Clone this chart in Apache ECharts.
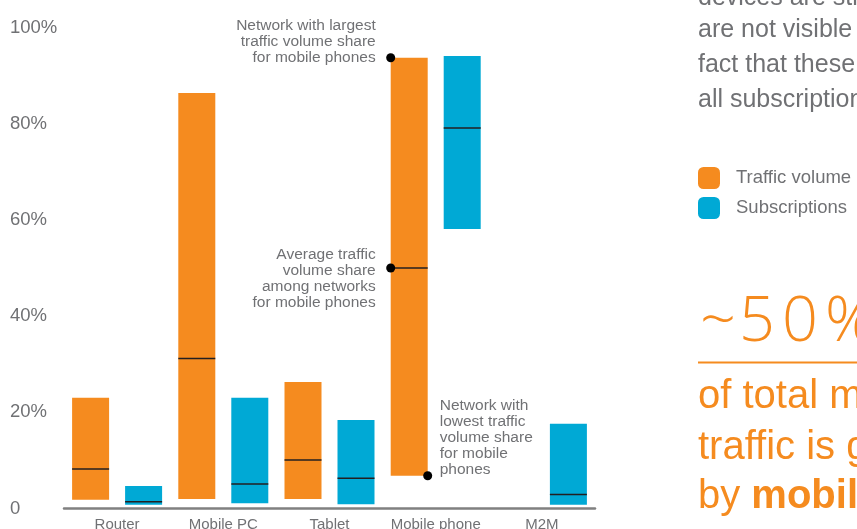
<!DOCTYPE html>
<html>
<head>
<meta charset="utf-8">
<style>
  html, body { margin: 0; padding: 0; background: #fff; }
  #chart { width: 857px; height: 529px; }
</style>
<script src="https://cdn.jsdelivr.net/npm/echarts@6/dist/echarts.min.js"></script>
</head>
<body>
<div id="chart"></div>
<script>
// Device categories and the share ranges (per cent) across networks
const categories = ['Router', 'Mobile PC', 'Tablet', 'Mobile phone', 'M2M'];

const trafficMin = [1.8, 2.0, 2.0, 6.8, null];
const trafficMax = [23.0, 86.4, 26.3, 93.7, null];
const trafficAvg = [8.2, 31.2, 10.1, 50.0, null];

const subsMin = [0.8, 1.1, 0.9, 58.1, 0.8];
const subsMax = [4.7, 23.0, 18.4, 94.1, 17.6];
const subsAvg = [1.4, 5.1, 6.3, 79.1, 2.9];

const yTicks = [0, 20, 40, 60, 80, 100];

const ORANGE = '#f58b1f';
const BLUE = '#00a9d5';
const GREY = '#707174';
const FONT = '"Liberation Sans", Arial, Helvetica, sans-serif';

const BAR_W = 37;
const BAR_GAP = 16;
const HALF_STEP = (BAR_W + BAR_GAP) / 2;

const rangeOf = (lo, hi) => lo.map((v, i) => (v == null || hi[i] == null) ? null : +(hi[i] - v).toFixed(2));
const avgPoints = arr => arr.map((v, i) => v == null ? null : [i, v]).filter(Boolean);

// horizontal average marker across one bar of the pair
function avgLine(offset) {
  return function (params, api) {
    const p = api.coord([api.value(0), api.value(1)]);
    const cx = p[0] + offset;
    return {
      type: 'line',
      shape: { x1: cx - BAR_W / 2, y1: p[1], x2: cx + BAR_W / 2, y2: p[1] },
      style: { stroke: '#231f20', lineWidth: 1.5 }
    };
  };
}

// call-outs for the mobile phone traffic range
const phone = categories.indexOf('Mobile phone');
const callouts = [
  { value: trafficMax[phone], side: 'left',  edge: -1, lines: ['Network with largest', 'traffic volume share', 'for mobile phones'], dy: 8, va: 'bottom' },
  { value: trafficAvg[phone], side: 'left',  edge: -1, lines: ['Average traffic', 'volume share', 'among networks', 'for mobile phones'], dy: 11, va: 'middle' },
  { value: trafficMin[phone], side: 'right', edge: 1,  lines: ['Network with', 'lowest traffic', 'volume share', 'for mobile', 'phones'], dy: 2, va: 'bottom' }
];

function calloutItem(params, api) {
  const c = callouts[params.dataIndex];
  const p = api.coord([phone, c.value]);
  const x = p[0] - HALF_STEP + c.edge * BAR_W / 2;
  const y = p[1];
  const left = c.side === 'left';
  return {
    type: 'group',
    children: [
      { type: 'circle', shape: { cx: x, cy: y, r: 4.5 }, style: { fill: '#000' } },
      {
        type: 'text',
        x: left ? x - 15 : x + 12,
        y: y + c.dy,
        style: {
          text: c.lines.join('\n'),
          fill: GREY,
          font: '15.5px ' + FONT,
          lineHeight: 16,
          align: left ? 'right' : 'left',
          verticalAlign: c.va
        }
      }
    ]
  };
}

const chart = echarts.init(document.getElementById('chart'), null, { renderer: 'canvas' });

const sideFont = '25px ' + FONT;
const bigFont = '40px ' + FONT;
const heroFont = '300 63px "Open Sans", Lato, ' + FONT;

chart.setOption({
  animation: false,
  backgroundColor: '#fff',
  grid: { left: 64, right: 262, top: 27.5, bottom: 20.5, containLabel: false, outerBoundsMode: 'none' },
  legend: {
    orient: 'vertical',
    left: 698,
    top: 167,
    padding: 0,
    itemGap: 8,
    itemWidth: 22,
    itemHeight: 22,
    icon: 'roundRect',
    data: ['Traffic volume', 'Subscriptions'],
    textStyle: { color: GREY, fontSize: 18.5, fontFamily: FONT, padding: [0, 0, 0, 11] }
  },
  xAxis: {
    type: 'category',
    data: categories,
    axisLine: { lineStyle: { color: '#808080', width: 2.5 } },
    axisTick: { show: false },
    axisLabel: { color: GREY, fontSize: 15, fontFamily: FONT, margin: 9, interval: 0 }
  },
  yAxis: {
    type: 'value',
    min: yTicks[0],
    max: yTicks[yTicks.length - 1],
    interval: yTicks[1] - yTicks[0],
    splitLine: { show: false },
    axisLine: { show: false },
    axisTick: { show: false },
    axisLabel: {
      color: GREY, fontSize: 18.5, fontFamily: FONT,
      align: 'left', margin: 54,
      formatter: v => v === 0 ? '0' : v + '%'
    }
  },
  series: [
    { type: 'bar', stack: 'traffic', data: trafficMin, barWidth: BAR_W, barGap: (BAR_GAP / BAR_W * 100) + '%',
      itemStyle: { color: 'transparent' }, silent: true },
    { name: 'Traffic volume', type: 'bar', stack: 'traffic', data: rangeOf(trafficMin, trafficMax), barWidth: BAR_W,
      itemStyle: { color: ORANGE } },
    { type: 'bar', stack: 'subs', data: subsMin, barWidth: BAR_W,
      itemStyle: { color: 'transparent' }, silent: true },
    { name: 'Subscriptions', type: 'bar', stack: 'subs', data: rangeOf(subsMin, subsMax), barWidth: BAR_W,
      itemStyle: { color: BLUE } },
    { type: 'custom', renderItem: avgLine(-HALF_STEP), data: avgPoints(trafficAvg), encode: { x: 0, y: 1 }, z: 5 },
    { type: 'custom', renderItem: avgLine(HALF_STEP), data: avgPoints(subsAvg), encode: { x: 0, y: 1 }, z: 5 },
    { type: 'custom', renderItem: calloutItem, data: callouts.map(c => [phone, c.value]), encode: { x: 0, y: 1 }, z: 6 }
  ],
  graphic: [
    // side text column
    { type: 'text', x: 698, y: -14, style: { text: 'devices are still', font: sideFont, fill: GREY } },
    { type: 'text', x: 698, y: 18, style: { text: 'are not visible in', font: sideFont, fill: GREY } },
    { type: 'text', x: 698, y: 53, style: { text: 'fact that these make up', font: sideFont, fill: GREY } },
    { type: 'text', x: 698, y: 88, style: { text: 'all subscriptions', font: sideFont, fill: GREY } },
    // headline figure, loosely tracked
    { type: 'text', x: 700, y: 292, style: {
        text: '{t|~}{d|5}{d|0}{p|%}',
        rich: {
          t: { font: heroFont, fill: ORANGE, padding: [0, 3, 0, 0] },
          d: { font: heroFont, fill: ORANGE, padding: [0, 7, 0, 0] },
          p: { font: heroFont, fill: ORANGE }
        }
      } },
    { type: 'rect', shape: { x: 698, y: 361.5, width: 200, height: 2 }, style: { fill: ORANGE } },
    { type: 'text', x: 698, y: 377, style: { text: 'of total mobile data', font: bigFont, fill: ORANGE } },
    { type: 'text', x: 698, y: 428, style: { text: 'traffic is generated', font: bigFont, fill: ORANGE } },
    { type: 'text', x: 698, y: 477, style: {
        text: '{r|by }{b|mobile phones}',
        rich: {
          r: { font: bigFont, fill: ORANGE },
          b: { font: 'bold 40px ' + FONT, fill: ORANGE }
        }
      } }
  ]
});
</script>
</body>
</html>
